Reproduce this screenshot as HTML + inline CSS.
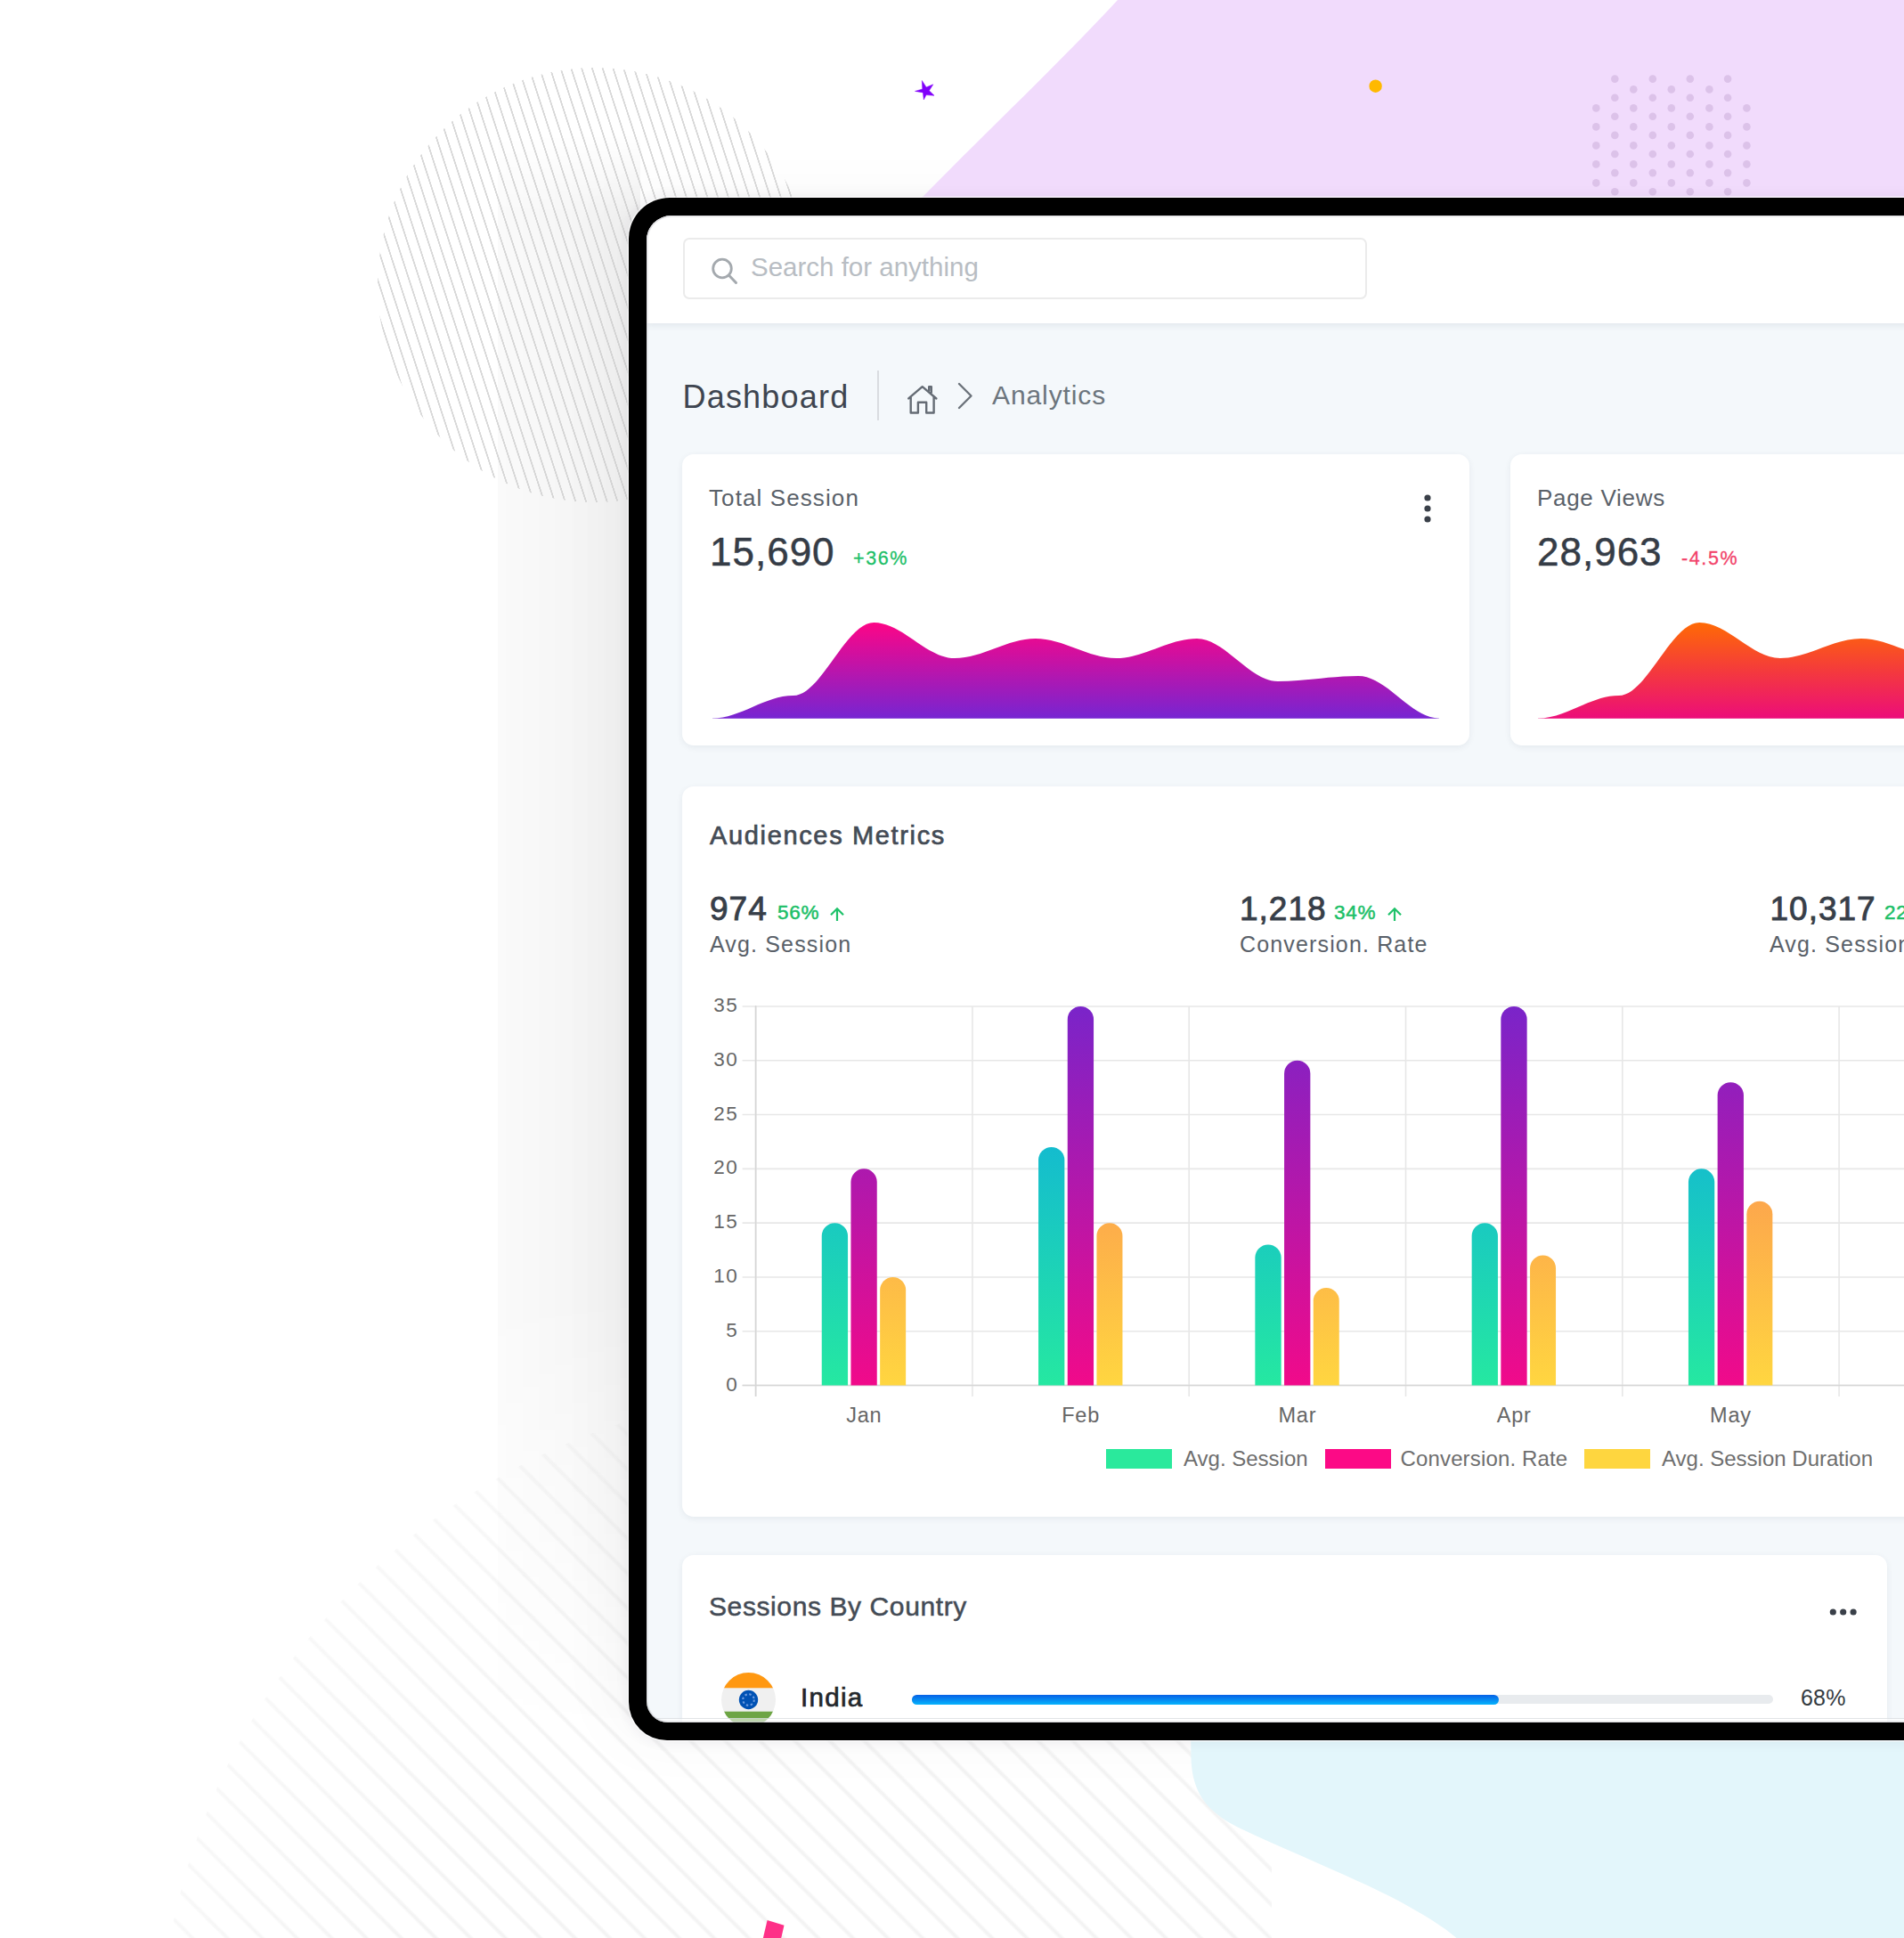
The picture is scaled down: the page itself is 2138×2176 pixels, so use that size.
<!DOCTYPE html>
<html>
<head>
<meta charset="utf-8">
<style>
*{margin:0;padding:0;box-sizing:border-box;}
html,body{width:2138px;height:2176px;overflow:hidden;background:#fff;}
body{position:relative;font-family:"Liberation Sans",sans-serif;}
.abs{position:absolute;}
.t{position:absolute;white-space:nowrap;line-height:1;}
#stripes1{left:424px;top:76px;width:488px;height:488px;border-radius:50%;
  background:repeating-linear-gradient(72deg,rgba(200,200,200,0) 0px,rgba(200,200,200,0) 9.0px,rgba(200,200,200,0.7) 9.4px,rgba(200,200,200,0.7) 10.8px,rgba(200,200,200,0) 11.2px);}
#stripes2wrap{left:0;top:1500px;width:1428px;height:676px;overflow:hidden;}
#stripes2{left:178px;top:60px;width:1510px;height:1510px;border-radius:50%;
  background:repeating-linear-gradient(45deg,rgba(220,220,220,0) 0px,rgba(220,220,220,0) 21.1px,rgba(220,220,220,0.33) 23.6px,rgba(220,220,220,0.33) 25.1px,rgba(220,220,220,0) 27.6px);
  -webkit-mask-image:radial-gradient(circle at 50% 50%,#000 45%,rgba(0,0,0,0.5) 80%,rgba(0,0,0,0) 100%);}
#shadow{left:706px;top:222px;width:1800px;height:1732px;border-radius:46px;box-shadow:-20px 0 70px 0 rgba(0,0,0,0.035);}
#shadowL{left:559px;top:150px;width:160px;height:1800px;background:linear-gradient(90deg,rgba(0,0,0,0.018),rgba(0,0,0,0.052) 147px);
  -webkit-mask-image:linear-gradient(180deg,rgba(0,0,0,0) 0,#000 90px,#000 1300px,rgba(0,0,0,0) 1800px);}
#frame{left:706px;top:222px;width:1800px;height:1732px;border-radius:46px 46px 43px 43px;background:#000;box-shadow:0 0 0 1.5px rgba(255,255,255,0.7),0 0 14px 2px rgba(60,40,80,0.07);}
#screen{left:726px;top:242px;width:1760px;height:1692px;border-radius:28px 28px 24px 24px;background:#f4f8fb;overflow:hidden;}
#header{left:0;top:0;width:100%;height:121px;background:#fff;box-shadow:0 2px 8px rgba(40,60,90,0.10);}
.search{left:41px;top:25px;width:768px;height:69px;border:2px solid #ebebeb;border-radius:7px;background:#fff;}
.card{position:absolute;background:#fff;border-radius:13px;box-shadow:0 2px 7px rgba(40,55,75,0.075);}
.lbl{font-size:26px;color:#5a6169;letter-spacing:1.1px;}
.big{font-size:44px;color:#353c46;letter-spacing:1.0px;-webkit-text-stroke:0.5px #353c46;}
.pct{font-size:21.5px;letter-spacing:1.6px;-webkit-text-stroke:0.3px currentColor;}
.green{color:#1dbf68;}
.red{color:#f2426a;}
.h4{font-size:29px;color:#444b55;letter-spacing:1.65px;-webkit-text-stroke:0.7px #444b55;}
.mval{font-size:37px;color:#373e48;letter-spacing:1.0px;-webkit-text-stroke:0.9px #373e48;}
.mpct{font-size:22.5px;letter-spacing:0.7px;-webkit-text-stroke:0.5px currentColor;}
.mlbl{font-size:25px;color:#5a6169;letter-spacing:1.15px;}
.leg{font-size:24px;color:#6e6e6e;}
</style>
</head>
<body>
<!-- background decorations -->
<div class="abs" id="shadow"></div>
<div class="abs" id="shadowL"></div>
<div class="abs" id="stripes1"></div>

<div class="abs" id="stripes2wrap"><div class="abs" id="stripes2"></div></div>
<svg class="abs" style="left:0;top:0" width="2138" height="2176">
  <path d="M1337,1940 L1337.5,1975 C1339,2010 1352,2034 1395,2054 C1450,2080 1520,2108 1570,2134 C1603,2152 1625,2166 1640,2180 L2138,2180 L2138,1940 Z" fill="#e3f6fb"/>
  <path d="M861.6,2156 L880.5,2161.8 L874,2190 L855,2184 Z" fill="#fe3087"/>
</svg>

<!-- tablet -->
<svg class="abs" style="left:0;top:0" width="2138" height="500" viewBox="0 0 2138 500">
  <path d="M1255,0 L2138,0 L2138,500 L760,500 L1040,217 C1110,146 1190,70 1255,0 Z" fill="#f1dbfc"/>
  <g fill="#dcc2e9"><circle cx="1792.3" cy="121.4" r="4.3"/><circle cx="1792.3" cy="142.4" r="4.3"/><circle cx="1792.3" cy="163.4" r="4.3"/><circle cx="1792.3" cy="184.4" r="4.3"/><circle cx="1792.3" cy="205.4" r="4.3"/><circle cx="1813.3" cy="88.6" r="4.3"/><circle cx="1813.3" cy="109.7" r="4.3"/><circle cx="1813.3" cy="130.8" r="4.3"/><circle cx="1813.3" cy="151.9" r="4.3"/><circle cx="1813.3" cy="173.0" r="4.3"/><circle cx="1813.3" cy="194.1" r="4.3"/><circle cx="1813.3" cy="215.2" r="4.3"/><circle cx="1834.3" cy="100.4" r="4.3"/><circle cx="1834.3" cy="121.4" r="4.3"/><circle cx="1834.3" cy="142.4" r="4.3"/><circle cx="1834.3" cy="163.4" r="4.3"/><circle cx="1834.3" cy="184.4" r="4.3"/><circle cx="1834.3" cy="205.4" r="4.3"/><circle cx="1855.8" cy="88.6" r="4.3"/><circle cx="1855.8" cy="109.7" r="4.3"/><circle cx="1855.8" cy="130.8" r="4.3"/><circle cx="1855.8" cy="151.9" r="4.3"/><circle cx="1855.8" cy="173.0" r="4.3"/><circle cx="1855.8" cy="194.1" r="4.3"/><circle cx="1855.8" cy="215.2" r="4.3"/><circle cx="1876.8" cy="100.4" r="4.3"/><circle cx="1876.8" cy="121.4" r="4.3"/><circle cx="1876.8" cy="142.4" r="4.3"/><circle cx="1876.8" cy="163.4" r="4.3"/><circle cx="1876.8" cy="184.4" r="4.3"/><circle cx="1876.8" cy="205.4" r="4.3"/><circle cx="1897.8" cy="88.6" r="4.3"/><circle cx="1897.8" cy="109.7" r="4.3"/><circle cx="1897.8" cy="130.8" r="4.3"/><circle cx="1897.8" cy="151.9" r="4.3"/><circle cx="1897.8" cy="173.0" r="4.3"/><circle cx="1897.8" cy="194.1" r="4.3"/><circle cx="1897.8" cy="215.2" r="4.3"/><circle cx="1919.4" cy="100.4" r="4.3"/><circle cx="1919.4" cy="121.4" r="4.3"/><circle cx="1919.4" cy="142.4" r="4.3"/><circle cx="1919.4" cy="163.4" r="4.3"/><circle cx="1919.4" cy="184.4" r="4.3"/><circle cx="1919.4" cy="205.4" r="4.3"/><circle cx="1940.1" cy="88.6" r="4.3"/><circle cx="1940.1" cy="109.7" r="4.3"/><circle cx="1940.1" cy="130.8" r="4.3"/><circle cx="1940.1" cy="151.9" r="4.3"/><circle cx="1940.1" cy="173.0" r="4.3"/><circle cx="1940.1" cy="194.1" r="4.3"/><circle cx="1940.1" cy="215.2" r="4.3"/><circle cx="1961.4" cy="121.4" r="4.3"/><circle cx="1961.4" cy="142.4" r="4.3"/><circle cx="1961.4" cy="163.4" r="4.3"/><circle cx="1961.4" cy="184.4" r="4.3"/><circle cx="1961.4" cy="205.4" r="4.3"/></g>
  <circle cx="1544.6" cy="96.7" r="7.2" fill="#ffb900"/>
  <path d="M1035.3,90.5 L1040.1,97.9 L1047.8,94.8 L1043.4,101.8 L1049,107.3 L1040,106.6 L1037.3,112 L1036.4,103.9 L1027.5,102.4 L1035.8,100 Z" fill="#8000fa" stroke="#8000fa" stroke-width="0.5" stroke-linejoin="round"/>
</svg>
<div class="abs" id="frame"></div>
<div class="abs" id="screen">
  <div class="abs" id="header">
    <div class="abs search"></div>
    <svg class="abs" style="left:70px;top:44px" width="40" height="40" viewBox="0 0 40 40">
      <circle cx="15" cy="15.5" r="10.3" fill="none" stroke="#a4a9ae" stroke-width="2.8"/>
      <line x1="22.6" y1="23.2" x2="30.5" y2="31.5" stroke="#a4a9ae" stroke-width="3" stroke-linecap="round"/>
    </svg>
    <div class="t" style="left:117px;top:43.4px;font-size:29.5px;color:#b8bdc3;">Search for anything</div>
  </div>

  <!-- page title / breadcrumb -->
  <div class="t" style="left:40.5px;top:185.5px;font-size:36px;color:#3e4550;letter-spacing:1.2px;">Dashboard</div>
  <div class="abs" style="left:259px;top:174px;width:2px;height:56px;background:#d9dce0;"></div>
  <svg class="abs" style="left:290px;top:186px" width="40" height="40" viewBox="0 0 40 40">
    <path d="M4.2,19.4 L19.7,6.2 L35.4,19.5 M6.7,17.5 L6.7,35.5 L14.9,35.5 L14.9,23.8 L24.2,23.8 L24.2,35.5 L32.6,35.5 L32.6,17.5 M27.2,10.5 L27.2,6.3 L29.8,6.3 L29.8,12.8" fill="none" stroke="#656c75" stroke-width="2.4" stroke-linejoin="round" stroke-linecap="round"/>
  </svg>
  <svg class="abs" style="left:345px;top:184px" width="30" height="40" viewBox="0 0 30 40">
    <path d="M6,5 L19.5,18.5 L6,32" fill="none" stroke="#6c737b" stroke-width="2.4" stroke-linecap="round" stroke-linejoin="round"/>
  </svg>
  <div class="t" style="left:388px;top:186.6px;font-size:30px;color:#6c757d;letter-spacing:0.9px;">Analytics</div>

  <!-- card 1 -->
  <div class="card" style="left:40px;top:268px;width:884px;height:327px;">
    <div class="t lbl" style="left:30px;top:35.8px;">Total Session</div>
    <div class="t big" style="left:31px;top:87.6px;">15,690</div>
    <div class="t pct green" style="left:192px;top:107px;">+36%</div>
    <svg class="abs" style="left:830px;top:40px" width="14" height="40"><circle cx="7" cy="9" r="3.6" fill="#3a4049"/><circle cx="7" cy="21" r="3.6" fill="#3a4049"/><circle cx="7" cy="33" r="3.6" fill="#3a4049"/></svg>
    <svg class="abs" style="left:0;top:0" width="884" height="327">
      <defs><linearGradient id="ga1" gradientUnits="userSpaceOnUse" x1="0" y1="189" x2="0" y2="297"><stop offset="0" stop-color="#fd0586"/><stop offset="1" stop-color="#7625d2"/></linearGradient></defs>
      <path d="M34.0,296.5 C65.7,296.5 92.9,271.0 124.7,271.0 C156.4,271.0 183.6,189.0 215.3,189.0 C247.1,189.0 274.3,229.0 306.0,229.0 C337.7,229.0 364.9,207.0 396.7,207.0 C428.4,207.0 455.6,229.0 487.3,229.0 C519.1,229.0 546.3,207.0 578.0,207.0 C609.7,207.0 636.9,255.0 668.7,255.0 C700.4,255.0 727.6,249.0 759.3,249.0 C791.1,249.0 818.3,296.5 850.0,296.5 L850.0,296.8 L34.0,296.8 Z" fill="url(#ga1)"/>
    </svg>
  </div>

  <!-- card 2 -->
  <div class="card" style="left:970px;top:268px;width:884px;height:327px;">
    <div class="t lbl" style="left:30px;top:35.8px;letter-spacing:0.7px;">Page Views</div>
    <div class="t big" style="left:30px;top:87.6px;">28,963</div>
    <div class="t pct red" style="left:192px;top:107px;">-4.5%</div>
    <svg class="abs" style="left:0;top:0" width="884" height="327">
      <defs><linearGradient id="ga2" gradientUnits="userSpaceOnUse" x1="0" y1="189" x2="0" y2="297"><stop offset="0" stop-color="#ff6a05"/><stop offset="0.5" stop-color="#f43a3c"/><stop offset="1" stop-color="#ec0d7a"/></linearGradient></defs>
      <path d="M34.0,296.5 C65.7,296.5 92.9,271.0 124.7,271.0 C156.4,271.0 183.6,189.0 215.3,189.0 C247.1,189.0 274.3,229.0 306.0,229.0 C337.7,229.0 364.9,207.0 396.7,207.0 C428.4,207.0 455.6,229.0 487.3,229.0 C519.1,229.0 546.3,207.0 578.0,207.0 C609.7,207.0 636.9,255.0 668.7,255.0 C700.4,255.0 727.6,249.0 759.3,249.0 C791.1,249.0 818.3,296.5 850.0,296.5 L850.0,296.8 L34.0,296.8 Z" fill="url(#ga2)" transform="translate(-3,0)"/>
    </svg>
  </div>

  <!-- card 3: audiences metrics -->
  <div class="card" style="left:40px;top:641px;width:1848px;height:820px;">
    <div class="t h4" style="left:31px;top:40.5px;">Audiences Metrics</div>

    <div class="t mval" style="left:31px;top:118.5px;">974</div>
    <div class="t mpct green" style="left:107px;top:130.8px;">56%</div>
    <svg class="abs" style="left:164px;top:134px" width="20" height="20" viewBox="0 0 20 20"><path d="M10,17 L10,3.2 M3,10.2 L10,3.2 L17,10.2" fill="none" stroke="#1ec26a" stroke-width="2.2"/></svg>
    <div class="t mlbl" style="left:31px;top:164.8px;">Avg. Session</div>

    <div class="t mval" style="left:626px;top:118.5px;">1,218</div>
    <div class="t mpct green" style="left:732px;top:130.8px;">34%</div>
    <svg class="abs" style="left:790px;top:134px" width="20" height="20" viewBox="0 0 20 20"><path d="M10,17 L10,3.2 M3,10.2 L10,3.2 L17,10.2" fill="none" stroke="#1ec26a" stroke-width="2.2"/></svg>
    <div class="t mlbl" style="left:626px;top:164.8px;">Conversion. Rate</div>

    <div class="t mval" style="left:1221.5px;top:118.5px;">10,317</div>
    <div class="t mpct green" style="left:1350px;top:130.8px;">22%</div>
    <div class="t mlbl" style="left:1221px;top:164.8px;">Avg. Session Duration</div>

    <svg class="abs" style="left:0;top:0" width="1500" height="820" viewBox="0 0 1500 820">
<defs>
<linearGradient id="gT" gradientUnits="userSpaceOnUse" x1="0" y1="247.0" x2="0" y2="672.5"><stop offset="0" stop-color="#0aa2e9"/><stop offset="1" stop-color="#25e8a1"/></linearGradient>
<linearGradient id="gM" gradientUnits="userSpaceOnUse" x1="0" y1="247.0" x2="0" y2="672.5"><stop offset="0" stop-color="#7a24c9"/><stop offset="1" stop-color="#f10a8a"/></linearGradient>
<linearGradient id="gO" gradientUnits="userSpaceOnUse" x1="0" y1="247.0" x2="0" y2="672.5"><stop offset="0" stop-color="#fa7659"/><stop offset="1" stop-color="#ffd640"/></linearGradient>
</defs>
<line x1="67.6" y1="672.50" x2="1500" y2="672.50" stroke="#e7e7e7" stroke-width="1.6"/><line x1="67.6" y1="611.71" x2="1500" y2="611.71" stroke="#e7e7e7" stroke-width="1.6"/><line x1="67.6" y1="550.93" x2="1500" y2="550.93" stroke="#e7e7e7" stroke-width="1.6"/><line x1="67.6" y1="490.14" x2="1500" y2="490.14" stroke="#e7e7e7" stroke-width="1.6"/><line x1="67.6" y1="429.36" x2="1500" y2="429.36" stroke="#e7e7e7" stroke-width="1.6"/><line x1="67.6" y1="368.57" x2="1500" y2="368.57" stroke="#e7e7e7" stroke-width="1.6"/><line x1="67.6" y1="307.79" x2="1500" y2="307.79" stroke="#e7e7e7" stroke-width="1.6"/><line x1="67.6" y1="247.00" x2="1500" y2="247.00" stroke="#e7e7e7" stroke-width="1.6"/><line x1="82.60" y1="247.00" x2="82.60" y2="685.00" stroke="#e7e7e7" stroke-width="1.6"/><line x1="325.90" y1="247.00" x2="325.90" y2="685.00" stroke="#e7e7e7" stroke-width="1.6"/><line x1="569.20" y1="247.00" x2="569.20" y2="685.00" stroke="#e7e7e7" stroke-width="1.6"/><line x1="812.50" y1="247.00" x2="812.50" y2="685.00" stroke="#e7e7e7" stroke-width="1.6"/><line x1="1055.80" y1="247.00" x2="1055.80" y2="685.00" stroke="#e7e7e7" stroke-width="1.6"/><line x1="1299.10" y1="247.00" x2="1299.10" y2="685.00" stroke="#e7e7e7" stroke-width="1.6"/><line x1="1542.40" y1="247.00" x2="1542.40" y2="685.00" stroke="#e7e7e7" stroke-width="1.6"/><line x1="1785.70" y1="247.00" x2="1785.70" y2="685.00" stroke="#e7e7e7" stroke-width="1.6"/><line x1="82.60" y1="246.00" x2="82.60" y2="685.00" stroke="#d6d6d6" stroke-width="1.6"/><line x1="67.6" y1="672.50" x2="1500" y2="672.50" stroke="#d6d6d6" stroke-width="1.6"/>
<path d="M156.75,672.50 L156.75,504.79 A14.65,14.65 0 0 1 186.05,504.79 L186.05,672.50 Z" fill="url(#gT)"/><path d="M189.45,672.50 L189.45,444.01 A14.65,14.65 0 0 1 218.75,444.01 L218.75,672.50 Z" fill="url(#gM)"/><path d="M222.15,672.50 L222.15,565.43 A14.50,14.50 0 0 1 251.15,565.43 L251.15,672.50 Z" fill="url(#gO)"/><path d="M400.05,672.50 L400.05,419.69 A14.65,14.65 0 0 1 429.35,419.69 L429.35,672.50 Z" fill="url(#gT)"/><path d="M432.75,672.50 L432.75,261.65 A14.65,14.65 0 0 1 462.05,261.65 L462.05,672.50 Z" fill="url(#gM)"/><path d="M465.45,672.50 L465.45,504.64 A14.50,14.50 0 0 1 494.45,504.64 L494.45,672.50 Z" fill="url(#gO)"/><path d="M643.35,672.50 L643.35,529.11 A14.65,14.65 0 0 1 672.65,529.11 L672.65,672.50 Z" fill="url(#gT)"/><path d="M676.05,672.50 L676.05,322.44 A14.65,14.65 0 0 1 705.35,322.44 L705.35,672.50 Z" fill="url(#gM)"/><path d="M708.75,672.50 L708.75,577.59 A14.50,14.50 0 0 1 737.75,577.59 L737.75,672.50 Z" fill="url(#gO)"/><path d="M886.65,672.50 L886.65,504.79 A14.65,14.65 0 0 1 915.95,504.79 L915.95,672.50 Z" fill="url(#gT)"/><path d="M919.35,672.50 L919.35,261.65 A14.65,14.65 0 0 1 948.65,261.65 L948.65,672.50 Z" fill="url(#gM)"/><path d="M952.05,672.50 L952.05,541.11 A14.50,14.50 0 0 1 981.05,541.11 L981.05,672.50 Z" fill="url(#gO)"/><path d="M1129.95,672.50 L1129.95,444.01 A14.65,14.65 0 0 1 1159.25,444.01 L1159.25,672.50 Z" fill="url(#gT)"/><path d="M1162.65,672.50 L1162.65,346.75 A14.65,14.65 0 0 1 1191.95,346.75 L1191.95,672.50 Z" fill="url(#gM)"/><path d="M1195.35,672.50 L1195.35,480.33 A14.50,14.50 0 0 1 1224.35,480.33 L1224.35,672.50 Z" fill="url(#gO)"/><path d="M1373.25,672.50 L1373.25,468.32 A14.65,14.65 0 0 1 1402.55,468.32 L1402.55,672.50 Z" fill="url(#gT)"/><path d="M1405.95,672.50 L1405.95,298.12 A14.65,14.65 0 0 1 1435.25,298.12 L1435.25,672.50 Z" fill="url(#gM)"/><path d="M1438.65,672.50 L1438.65,516.80 A14.50,14.50 0 0 1 1467.65,516.80 L1467.65,672.50 Z" fill="url(#gO)"/><path d="M1616.55,672.50 L1616.55,516.95 A14.65,14.65 0 0 1 1645.85,516.95 L1645.85,672.50 Z" fill="url(#gT)"/><path d="M1649.25,672.50 L1649.25,383.22 A14.65,14.65 0 0 1 1678.55,383.22 L1678.55,672.50 Z" fill="url(#gM)"/><path d="M1681.95,672.50 L1681.95,553.27 A14.50,14.50 0 0 1 1710.95,553.27 L1710.95,672.50 Z" fill="url(#gO)"/>
<g font-family="Liberation Sans" font-size="22.5" letter-spacing="1.5" fill="#666"><text x="63.2" y="678.50" text-anchor="end">0</text><text x="63.2" y="617.71" text-anchor="end">5</text><text x="63.2" y="556.93" text-anchor="end">10</text><text x="63.2" y="496.14" text-anchor="end">15</text><text x="63.2" y="435.36" text-anchor="end">20</text><text x="63.2" y="374.57" text-anchor="end">25</text><text x="63.2" y="313.79" text-anchor="end">30</text><text x="63.2" y="253.00" text-anchor="end">35</text></g>
<g font-family="Liberation Sans" font-size="23.5" letter-spacing="0.8" fill="#666"><text x="204.3" y="713.6" text-anchor="middle">Jan</text><text x="447.6" y="713.6" text-anchor="middle">Feb</text><text x="690.9" y="713.6" text-anchor="middle">Mar</text><text x="934.2" y="713.6" text-anchor="middle">Apr</text><text x="1177.5" y="713.6" text-anchor="middle">May</text><text x="1420.8" y="713.6" text-anchor="middle">Jun</text><text x="1664.1" y="713.6" text-anchor="middle">Jul</text></g>
</svg>

    <!-- legend -->
    <div class="abs" style="left:476px;top:744px;width:74px;height:22px;background:#2ae99c;"></div>
    <div class="t leg" style="left:563px;top:743px;">Avg. Session</div>
    <div class="abs" style="left:722px;top:744px;width:74px;height:22px;background:#fc0a86;"></div>
    <div class="t leg" style="left:806.5px;top:743px;letter-spacing:0.15px;">Conversion. Rate</div>
    <div class="abs" style="left:1013px;top:744px;width:74px;height:22px;background:#fed63f;"></div>
    <div class="t leg" style="left:1100px;top:743px;">Avg. Session Duration</div>
  </div>

  <!-- card 4: sessions by country -->
  <div class="card" style="left:40px;top:1504px;width:1353px;height:400px;">
    <div class="t h4" style="left:30px;top:42.5px;font-size:30px;letter-spacing:0.6px;-webkit-text-stroke:0.5px #444b55;">Sessions By Country</div>
    <svg class="abs" style="left:1286px;top:55.5px" width="40" height="16"><circle cx="6.3" cy="8" r="3.6" fill="#3a4049"/><circle cx="17.7" cy="8" r="3.6" fill="#3a4049"/><circle cx="29.1" cy="8" r="3.6" fill="#3a4049"/></svg>
    <svg class="abs" style="left:44px;top:132px" width="61" height="61" viewBox="0 0 60 60">
      <defs><clipPath id="fc"><circle cx="30" cy="30" r="30"/></clipPath></defs>
      <g clip-path="url(#fc)">
        <rect x="0" y="0" width="60" height="60" fill="#f0f0f0"/>
        <rect x="0" y="0" width="60" height="17" fill="#ff9811"/>
        <rect x="0" y="43" width="60" height="17" fill="#6da544"/>
        <circle cx="30" cy="30" r="10.5" fill="#0052b4"/>
        <circle cx="30" cy="30" r="6.2" fill="none" stroke="#6d9be0" stroke-width="2" stroke-dasharray="2.4 2.47"/>
        <circle cx="30" cy="30" r="3" fill="#0052b4"/>
      </g>
    </svg>
    <div class="t" style="left:133px;top:145px;font-size:29.5px;color:#23272c;letter-spacing:1.3px;-webkit-text-stroke:0.7px #23272c;">India</div>
    <div class="abs" style="left:258px;top:157px;width:967px;height:10px;border-radius:5px;background:#e8ebee;"></div>
    <div class="abs" style="left:258px;top:156.5px;width:659px;height:11px;border-radius:5.5px;background:linear-gradient(180deg,#0660e6,#05b3fc);"></div>
    <div class="t" style="left:1256px;top:147.5px;font-size:25px;color:#343a40;letter-spacing:0.2px;">68%</div>
  </div>
  <div class="abs" style="left:0;top:1686.5px;width:100%;height:5.5px;background:rgba(255,255,255,0.55);border-top:1.5px solid rgba(205,210,215,0.6);"></div>
</div>
<div class="abs" style="left:726px;top:242px;width:1760px;height:1692px;border-radius:28px 28px 24px 24px;box-shadow:inset 0 0 0 1.5px rgba(200,200,205,0.55);"></div>
</body>
</html>
